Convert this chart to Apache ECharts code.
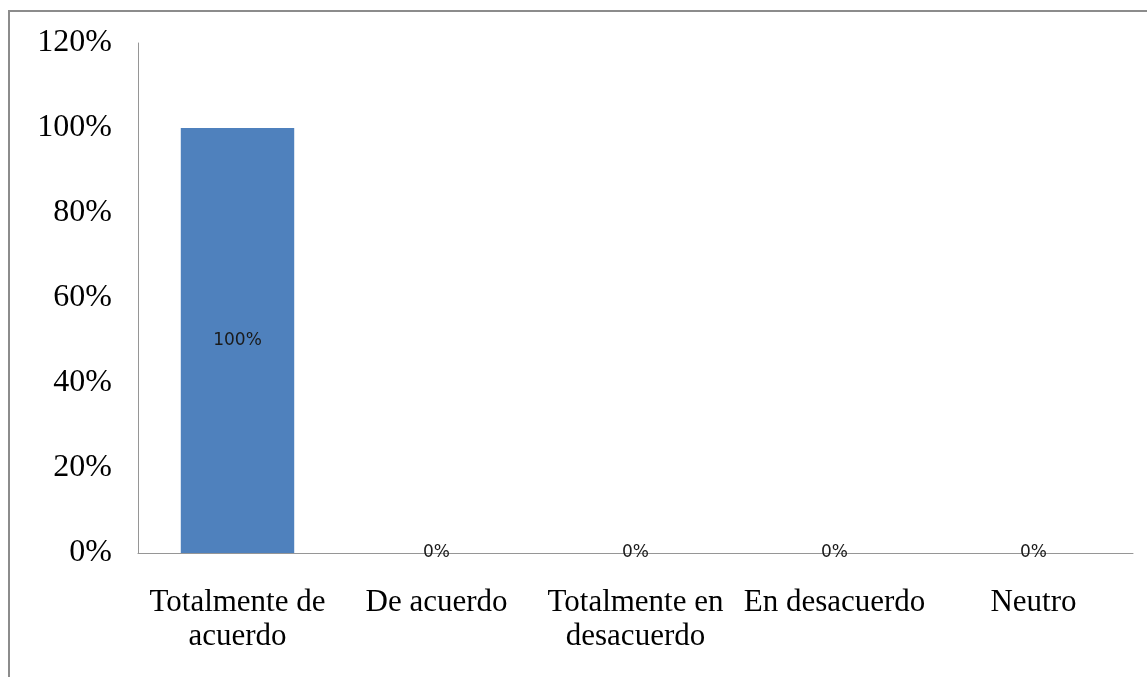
<!DOCTYPE html>
<html><head><meta charset="utf-8">
<script src="https://cdn.jsdelivr.net/npm/echarts@6/dist/echarts.min.js"></script>
<style>
html,body{margin:0;padding:0;background:#fff;}
#frame{position:absolute;left:8px;top:10px;width:1139px;height:667px;border-top:2px solid #8c8c8c;border-left:2px solid #8c8c8c;box-sizing:border-box;}
#c{position:absolute;left:0;top:0;width:1147px;height:677px;}
</style></head>
<body>
<div id="frame"></div>
<div id="c"></div>
<script>
const categories = ['Totalmente de\nacuerdo', 'De acuerdo', 'Totalmente en\ndesacuerdo', 'En desacuerdo', 'Neutro'];
const values = [100, 0, 0, 0, 0];
const yTicks = [0, 20, 40, 60, 80, 100, 120];

const chart = echarts.init(document.getElementById('c'), null, {renderer: 'canvas'});
chart.setOption({
  animation: false,
  grid: {left: 138, right: 14, top: 43, bottom: 124, containLabel: false},
  xAxis: {
    type: 'category',
    data: categories,
    axisLine: {lineStyle: {color: '#969696', width: 1}},
    axisTick: {show: false},
    axisLabel: {
      fontFamily: 'Liberation Serif', fontSize: 31, color: '#000',
      lineHeight: 34, margin: 33, interval: 0
    }
  },
  yAxis: {
    type: 'value',
    min: 0, max: 120, interval: 20,
    axisLine: {show: true, lineStyle: {color: '#969696', width: 1}},
    axisTick: {show: false},
    splitLine: {show: false},
    axisLabel: {
      fontFamily: 'Liberation Serif', fontSize: 32, color: '#000', margin: 26,
      formatter: v => yTicks.includes(v) ? v + '%' : ''
    }
  },
  series: [{
    type: 'bar',
    data: values,
    barWidth: '57%',
    itemStyle: {color: '#4f81bd'},
    label: {
      show: true, position: 'inside',
      fontFamily: 'DejaVu Sans', fontSize: 17, color: '#1a1a1a',
      formatter: p => p.value + '%'
    }
  }]
});
</script>
</body></html>
